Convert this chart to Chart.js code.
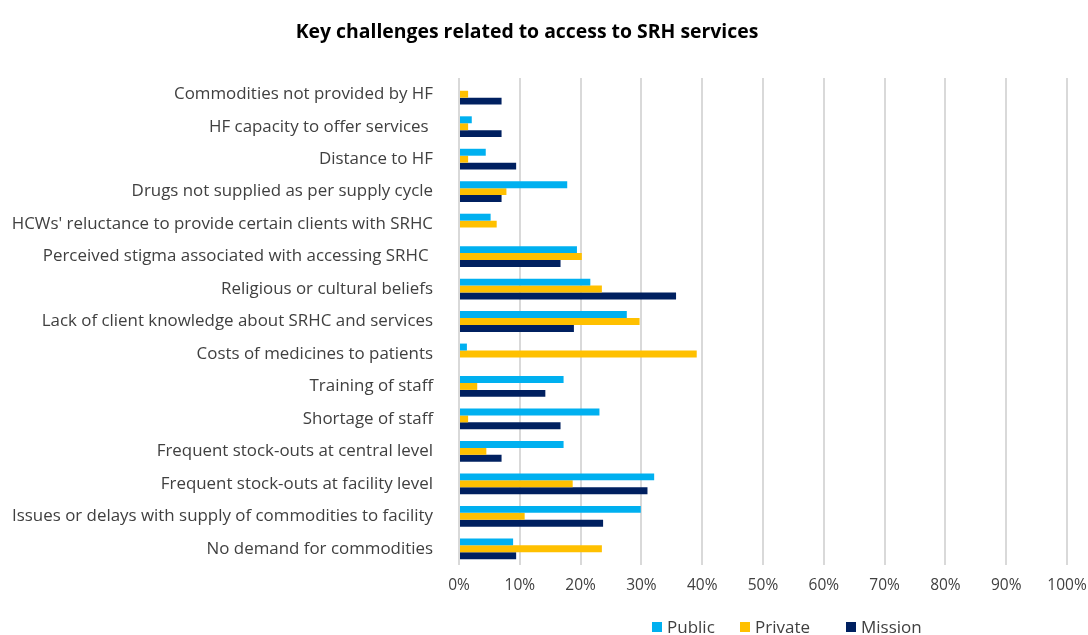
<!DOCTYPE html>
<html>
<head>
<meta charset="utf-8">
<script src="https://cdn.jsdelivr.net/npm/chart.js@4"></script>
<style>
  html, body { margin: 0; padding: 0; background: #fff; }
  #wrap { position: relative; width: 1088px; height: 635px; overflow: hidden; }
  #title {
    position: absolute; left: 0; width: 1054px; top: 17px; text-align: center;
    font: bold 19.4px "Open Sans", sans-serif; color: #000;
  }
  #legend { position: absolute; left: 0; top: 615px; width: 1088px; height: 22px; }
  #legend .item {
    position: absolute; top: 0; display: flex; align-items: center;
    font: 17px "Open Sans", sans-serif; color: #404040;
  }
  #legend span.sw { display: inline-block; width: 10px; height: 10px; margin-right: 5px; }
</style>
</head>
<body>
<div id="wrap">
  <canvas id="chart" width="1088" height="635"></canvas>
  <div id="title">Key challenges related to access to SRH services</div>
  <div id="legend"></div>
</div>
<script>
"use strict";

const categories = [
    "Commodities not provided by HF",
    "HF capacity to offer services ",
    "Distance to HF",
    "Drugs not supplied as per supply cycle",
    "HCWs' reluctance to provide certain clients with SRHC",
    "Perceived stigma associated with accessing SRHC ",
    "Religious or cultural beliefs",
    "Lack of client knowledge about SRHC and services",
    "Costs of medicines to patients",
    "Training of staff",
    "Shortage of staff",
    "Frequent stock-outs at central level",
    "Frequent stock-outs at facility level",
    "Issues or delays with supply of commodities to facility",
    "No demand for commodities"
];

const publicValues  = [0, 2.1, 4.4, 17.8, 5.2, 19.4, 21.6, 27.6, 1.3, 17.2, 23.1, 17.2, 32.1, 29.9, 8.9];
const privateValues = [1.5, 1.5, 1.5, 7.8, 6.2, 20.2, 23.5, 29.7, 39.1, 3.0, 1.5, 4.5, 18.7, 10.8, 23.5];
const missionValues = [7.0, 7.0, 9.4, 7.0, 0, 16.7, 35.7, 18.9, 0, 14.2, 16.7, 7.0, 31.0, 23.7, 9.4];

const xTicks = [0, 10, 20, 30, 40, 50, 60, 70, 80, 90, 100];

const series = [
    { label: "Public", data: publicValues, color: "#00B0F0", left: 652 },
    { label: "Private", data: privateValues, color: "#FFC000", left: 740 },
    { label: "Mission", data: missionValues, color: "#002060", left: 846 }
];

const font = "Open Sans";
const textColor = "#404040";

new Chart(document.getElementById("chart"), {
    type: "bar",
    data: {
        labels: categories,
        datasets: series.map((s) => ({
            label: s.label,
            data: s.data,
            backgroundColor: s.color,
            borderWidth: 0,
            categoryPercentage: 0.64,
            barPercentage: 1.0
        }))
    },
    options: {
        indexAxis: "y",
        responsive: false,
        animation: false,
        layout: { padding: { top: 78, bottom: 40, left: 0, right: 21 } },
        plugins: {
            legend: { display: false },
            title: { display: false },
            tooltip: { enabled: false }
        },
        scales: {
            x: {
                min: 0,
                max: 100,
                afterBuildTicks: (scale) => {
                    scale.ticks = xTicks.map((v) => ({ value: v }));
                },
                afterFit: (scale) => {
                    scale.height = 30;
                    // let the last tick label run past the edge like the plot area does
                    scale.paddingRight = 0;
                },
                grid: { color: "#d9d9d9", lineWidth: 2, drawTicks: false },
                border: { display: false },
                ticks: {
                    padding: 11,
                    color: textColor,
                    font: { family: font, size: 15.5 },
                    callback: (v) => v + "%"
                }
            },
            y: {
                afterFit: (scale) => { scale.width = 459; },
                grid: { display: false },
                border: { display: false },
                ticks: {
                    padding: 18,
                    color: textColor,
                    font: { family: font, size: 16.9 }
                }
            }
        }
    }
});

const legend = document.getElementById("legend");
legend.innerHTML = series.map((s) => `
    <div class="item" style="left:${s.left}px"><span class="sw" style="background:${s.color}"></span>${s.label}</div>
`).join("");
</script>
</body>
</html>
